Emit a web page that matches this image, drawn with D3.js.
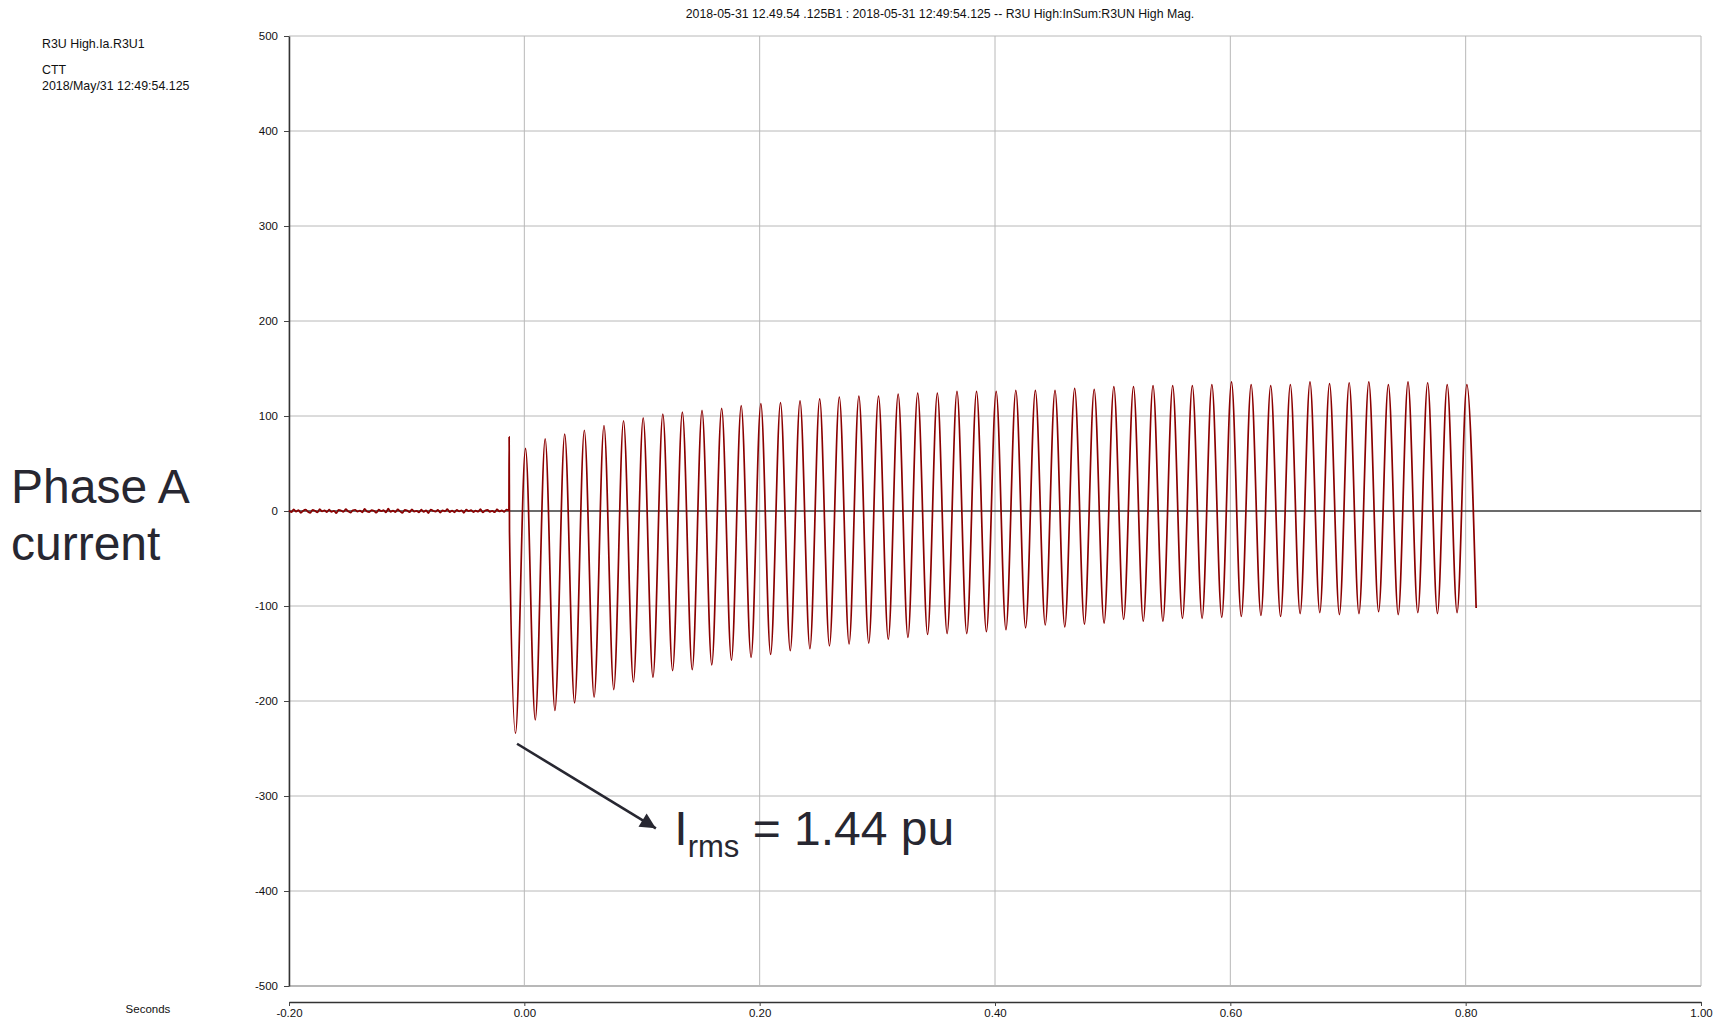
<!DOCTYPE html>
<html>
<head>
<meta charset="utf-8">
<script src="https://cdn.jsdelivr.net/npm/d3@7"></script>
<style>
  html, body { margin: 0; padding: 0; background: #ffffff; }
  svg { display: block; }
  text { font-family: "Liberation Sans", Arial, sans-serif; }
</style>
</head>
<body>
<svg id="chart" width="1723" height="1021"></svg>
<script>
// ---- Recorder header text ----
const titleText = "2018-05-31 12.49.54 .125B1 : 2018-05-31 12:49:54.125 -- R3U High:InSum:R3UN High Mag.";
const channelInfo = ["R3U High.Ia.R3U1", "CTT", "2018/May/31 12:49:54.125"];
const xAxisName = "Seconds";
const sideLabel = ["Phase A", "current"];

// ---- Axis ticks ----
const xTicks = [-0.2, 0.0, 0.2, 0.4, 0.6, 0.8, 1.0];
const yTicks = [-500, -400, -300, -200, -100, 0, 100, 200, 300, 400, 500];

// ---- Pre-fault load current noise (A), sampled from -0.200 s to -0.0132 s ----
const noiseSpan = [-0.2, -0.0132];
const noiseValues = [0.5,-1.2,1.8,-0.6,0.9,-1.9,0.3,1.4,-0.8,-2.1,1.1,0.2,-1.5,2.0,-0.4,0.7,-1.3,1.6,-0.9,0.1,
  -2.3,1.2,0.6,-1.0,1.9,-0.3,-1.7,0.8,1.3,-0.7,0.4,-1.4,2.2,-0.5,-1.1,1.0,0.0,-1.8,1.5,-0.2,
  0.9,-1.6,2.4,-0.9,0.3,-1.2,1.7,-0.4,-2.0,1.1,0.5,-1.3,1.8,-0.6,0.2,-1.5,1.4,-1.0,0.7,-2.2,
  1.6,0.1,-0.8,1.2,-1.7,0.6,-0.3,2.0,-1.1,0.4,-1.4,1.3,-0.5,0.8,-1.9,1.5,-0.2,1.0,-1.2,0.3,
  -0.7,1.9,-1.6,0.5,1.1,-0.9,0.2,-1.3,1.7,-0.4,0.6,-1.0,1.4,0.8];

// ---- Energisation transient: onset spike and first trough ----
const onsetTimes  = [-0.0131, -0.0129, -0.0126, -0.0075];
const onsetValues = [0.5, 78, -22, -234];

// ---- Positive peaks of each cycle ----
const peakTimes = [0.0010,0.0177,0.0343,0.0510,0.0677,0.0843,0.1010,0.1177,0.1343,0.1510,
  0.1677,0.1843,0.2010,0.2177,0.2343,0.2510,0.2677,0.2843,0.3010,0.3177,
  0.3343,0.3510,0.3677,0.3843,0.4010,0.4177,0.4343,0.4510,0.4677,0.4843,
  0.5010,0.5177,0.5343,0.5510,0.5677,0.5843,0.6010,0.6177,0.6343,0.6510,
  0.6677,0.6843,0.7010,0.7177,0.7343,0.7510,0.7677,0.7843,0.8010];
const peakValues = [66,76,81,85,90,95,98,102,104,106,
  108,111,113,114,116,118,120,121,121,123,
  124,124,126,126,126,127,127,127,129,128,
  131,131,132,132,132,133,136,133,132,133,
  136,134,135,136,133,136,135,133,133];

// ---- Negative peaks of each cycle ----
const troughTimes = [0.0093,0.0260,0.0427,0.0593,0.0760,0.0927,0.1093,0.1260,0.1427,0.1593,
  0.1760,0.1927,0.2093,0.2260,0.2427,0.2593,0.2760,0.2927,0.3093,0.3260,
  0.3427,0.3593,0.3760,0.3927,0.4093,0.4260,0.4427,0.4593,0.4760,0.4927,
  0.5093,0.5260,0.5427,0.5593,0.5760,0.5927,0.6093,0.6260,0.6427,0.6593,
  0.6760,0.6927,0.7093,0.7260,0.7427,0.7593,0.7760,0.7927];
const troughValues = [-220,-210,-202,-196,-188,-180,-175,-168,-167,-162,
  -157,-154,-151,-147,-145,-142,-140,-139,-135,-133,
  -130,-129,-129,-127,-125,-123,-120,-122,-119,-118,
  -114,-116,-116,-113,-113,-112,-111,-110,-111,-108,
  -107,-109,-108,-106,-109,-107,-108,-107];

// ---- Last recorded sample ----
const endTimes = [0.8089];
const endValues = [-102];

// ---- Annotation ----
const annotation = { from: [-0.0062, -245], to: [0.1118, -334], textAt: [0.1275, -352],
  main: "I", sub: "rms", rest: " = 1.44 pu" };

// ---- Layout ----
const svg = d3.select("#chart");
const plot = { left: 289, right: 1701, top: 36, bottom: 986 };
const xAxisY = 1002;
const tickFont = "'Liberation Sans', Arial, sans-serif";

const x = d3.scaleLinear().domain([-0.2, 1.0]).range([plot.left, plot.right]);
const y = d3.scaleLinear().domain([-500, 500]).range([plot.bottom, plot.top]);

// gridlines
const grid = svg.append("g");
grid.selectAll("line.v").data(xTicks).join("line")
  .attr("x1", d => x(d)).attr("x2", d => x(d))
  .attr("y1", plot.top).attr("y2", plot.bottom)
  .attr("stroke", "#b8b8b8").attr("stroke-width", 1);
grid.selectAll("line.h").data(yTicks.filter(d => d !== 0)).join("line")
  .attr("x1", plot.left).attr("x2", plot.right)
  .attr("y1", d => y(d)).attr("y2", d => y(d))
  .attr("stroke", "#b8b8b8").attr("stroke-width", d => (d === -500 ? 2 : 1));

// zero reference line
svg.append("line")
  .attr("x1", plot.left).attr("x2", plot.right)
  .attr("y1", y(0)).attr("y2", y(0))
  .attr("stroke", "#3a3a3a").attr("stroke-width", 1.5);

// y axis (plain hyphen minus signs, as the recorder prints them)
const yAxis = svg.append("g").attr("transform", `translate(${plot.left},0)`)
  .call(d3.axisLeft(y).tickValues(yTicks).tickFormat(d => String(d))
    .tickSize(5).tickSizeOuter(0).tickPadding(6));
yAxis.select(".domain").attr("stroke", "#333").attr("stroke-width", 1.5);
yAxis.selectAll(".tick line").attr("stroke", "#444");
yAxis.selectAll(".tick text").attr("font-size", "11.5px").attr("fill", "#111")
  .attr("font-family", tickFont);

// x axis
const xAxis = svg.append("g").attr("transform", `translate(0,${xAxisY})`)
  .call(d3.axisBottom(x).tickValues(xTicks).tickFormat(d => d.toFixed(2))
    .tickSize(4).tickSizeOuter(0).tickPadding(3));
xAxis.select(".domain").attr("stroke", "#333").attr("stroke-width", 1.5);
xAxis.selectAll(".tick line").attr("stroke", "#444");
xAxis.selectAll(".tick text").attr("font-size", "11.5px").attr("fill", "#111")
  .attr("font-family", tickFont);

// waveform points
const noiseTime = d3.scaleLinear().domain([0, noiseValues.length - 1]).range(noiseSpan);
const pts = [];
noiseValues.forEach((v, i) => pts.push([noiseTime(i), v]));
onsetTimes.forEach((t, i) => pts.push([t, onsetValues[i]]));
const cycles = [];
peakTimes.forEach((t, i) => cycles.push([t, peakValues[i]]));
troughTimes.forEach((t, i) => cycles.push([t, troughValues[i]]));
cycles.sort((a, b) => a[0] - b[0]);
cycles.forEach(p => pts.push(p));
endTimes.forEach((t, i) => pts.push([t, endValues[i]]));

const line = d3.line().x(d => x(d[0])).y(d => y(d[1])).curve(d3.curveMonotoneX);
svg.append("path").datum(pts)
  .attr("d", line)
  .attr("fill", "none")
  .attr("stroke", "#8b0000")
  .attr("stroke-width", 1.7)
  .attr("stroke-linejoin", "round");

// header
svg.append("text").attr("x", 940).attr("y", 18).attr("text-anchor", "middle")
  .attr("font-size", "12.3px").attr("fill", "#111").text(titleText);

const info = svg.append("g");
info.append("text").attr("x", 42).attr("y", 48).attr("font-size", "12.4px").attr("fill", "#111").text(channelInfo[0]);
info.append("text").attr("x", 42).attr("y", 74).attr("font-size", "12.4px").attr("fill", "#111").text(channelInfo[1]);
info.append("text").attr("x", 42).attr("y", 90).attr("font-size", "12.4px").attr("fill", "#111").text(channelInfo[2]);

svg.append("text").attr("x", 148).attr("y", 1013).attr("text-anchor", "middle")
  .attr("font-size", "11.5px").attr("fill", "#111").text(xAxisName);

// side label
svg.append("text").attr("x", 11).attr("y", 503).attr("font-size", "48px").attr("fill", "#272731").text(sideLabel[0]);
svg.append("text").attr("x", 11).attr("y", 560).attr("font-size", "48px").attr("fill", "#272731").text(sideLabel[1]);

// annotation arrow
const defs = svg.append("defs");
defs.append("marker").attr("id", "arrowhead")
  .attr("viewBox", "0 0 10 10").attr("refX", 10).attr("refY", 5)
  .attr("markerWidth", 7).attr("markerHeight", 6).attr("markerUnits", "strokeWidth")
  .attr("orient", "auto")
  .append("path").attr("d", "M0,0 L10,5 L0,10 z").attr("fill", "#272731");

svg.append("line")
  .attr("x1", x(annotation.from[0])).attr("y1", y(annotation.from[1]))
  .attr("x2", x(annotation.to[0])).attr("y2", y(annotation.to[1]))
  .attr("stroke", "#272731").attr("stroke-width", 2.6)
  .attr("marker-end", "url(#arrowhead)");

const ann = svg.append("text")
  .attr("x", x(annotation.textAt[0])).attr("y", y(annotation.textAt[1]))
  .attr("font-size", "48px").attr("fill", "#272731");
ann.append("tspan").text(annotation.main);
ann.append("tspan").attr("font-size", "31px").attr("dy", 12).text(annotation.sub);
ann.append("tspan").attr("dy", -12).text(annotation.rest);
</script>
</body>
</html>
